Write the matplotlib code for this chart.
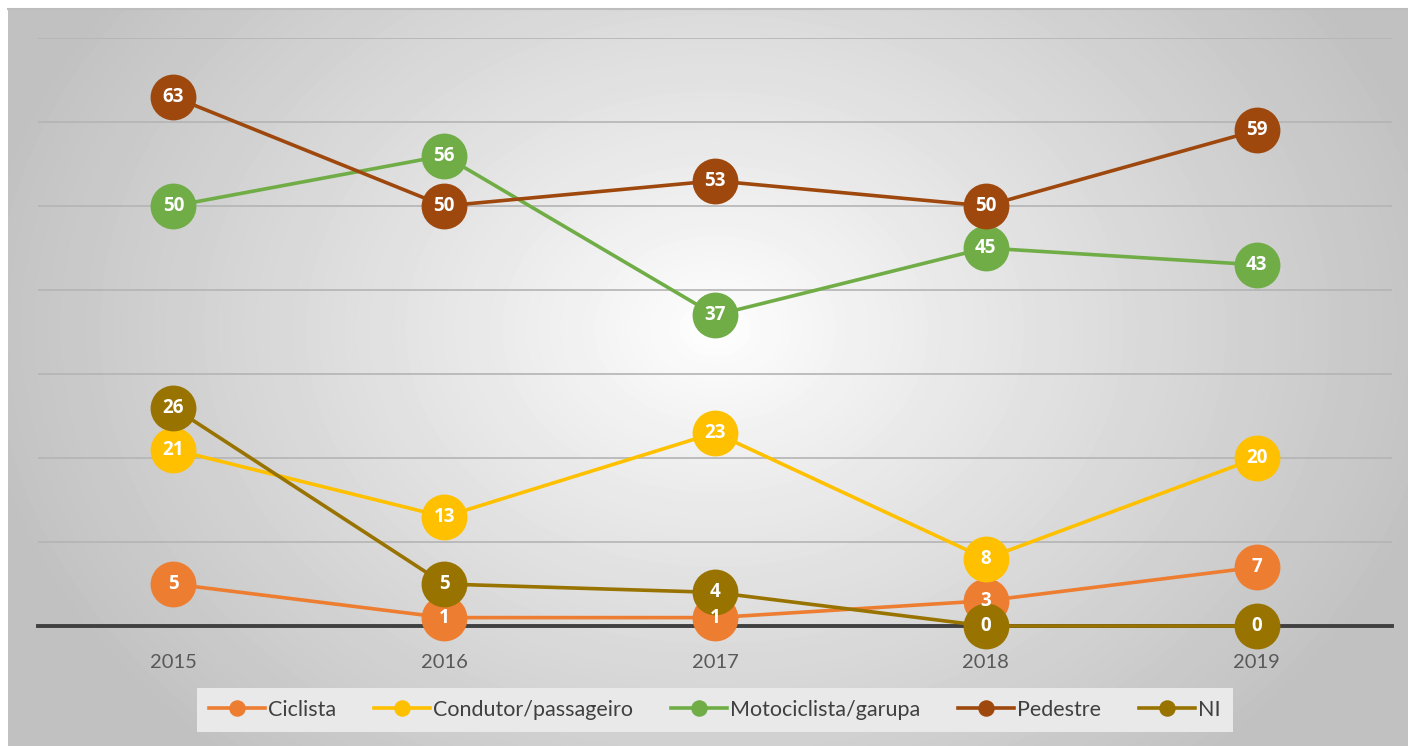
import numpy as np
import matplotlib
matplotlib.use("Agg")
import matplotlib.pyplot as plt

years = ["2015", "2016", "2017", "2018", "2019"]
ciclista = [5, 1, 1, 3, 7]
condutor = [21, 13, 23, 8, 20]
motociclista = [50, 56, 37, 45, 43]
pedestre = [63, 50, 53, 50, 59]
ni = [26, 5, 4, 0, 0]

series_names = ["Ciclista", "Condutor/passageiro", "Motociclista/garupa", "Pedestre", "NI"]
series_values = [ciclista, condutor, motociclista, pedestre, ni]
colors = ["#ED7D31", "#FFC000", "#70AD47", "#9E480E", "#997300"]

plt.rcParams['font.family'] = ['Lato', 'DejaVu Sans']

fig = plt.figure(figsize=(14.08, 7.46), dpi=100)

# radial gradient background of the chart area
bg = fig.add_axes([8 / 1408, 0, 1 - 8 / 1408, 1 - 9 / 746])
bg.set_axis_off()
gx, gy = np.meshgrid(np.arange(1400), np.arange(737))
cx, cy = 707, 320
r = np.sqrt((gx - cx) ** 2 + ((gy - cy) * 1.3) ** 2)
r = np.clip(r / 740, 0, 1)
shade = 1.0 - 0.24 * r ** 0.9
bg.imshow(shade, cmap="gray", vmin=0, vmax=1, aspect="auto",
          extent=[0, 1, 0, 1], origin="upper", interpolation="bilinear")
bg.set_xlim(0, 1)
bg.set_ylim(0, 1)
fig.add_artist(plt.Line2D([8 / 1408, 1], [1 - 9 / 746, 1 - 9 / 746],
                          color="#bdbdbd", lw=1.5, transform=fig.transFigure))

ax = fig.add_axes([38 / 1408, 1 - 626 / 746, (1392 - 38) / 1408, (626 - 38) / 746])
ax.patch.set_alpha(0)
x = np.arange(len(years))
ax.set_xlim(-0.5, len(years) - 0.5)
ax.set_ylim(0, 70)

for gv in range(10, 80, 10):
    ax.axhline(gv, color="#b4b4b4", lw=1.2, zorder=1)
ax.axhline(0, color="#404040", lw=2.8, zorder=2, clip_on=False)

for i, (name, vals, col) in enumerate(zip(series_names, series_values, colors)):
    ax.plot(x, vals, color=col, lw=2.6, marker="o", markersize=33,
            markeredgewidth=0, label=name, zorder=3 + i, clip_on=False)
    for xi, v in zip(x, vals):
        ax.text(xi, v, str(v), color="white", fontsize=13.5, fontweight="bold",
                family=["Open Sans", "DejaVu Sans"],
                ha="center", va="center", zorder=20)

ax.set_xticks(x)
ax.set_xticklabels(years, fontsize=14.5, color="#595959")
ax.tick_params(axis="x", length=0, pad=20)
ax.set_yticks([])
for s in ax.spines.values():
    s.set_visible(False)

handles, labels = ax.get_legend_handles_labels()
leg = fig.legend(handles, labels, loc="center", bbox_to_anchor=(715 / 1408, 1 - 710 / 746),
                 ncol=5, frameon=True, fontsize=15.5, markerscale=0.36, handlelength=2.6,
                 handletextpad=0.15, columnspacing=1.75, borderpad=0.55, fancybox=False,
                 labelcolor="#404040")
leg.get_frame().set_facecolor("#e9e9e9")
leg.get_frame().set_edgecolor("none")
leg.get_frame().set_alpha(1)

fig.savefig("out.png", dpi=100)
